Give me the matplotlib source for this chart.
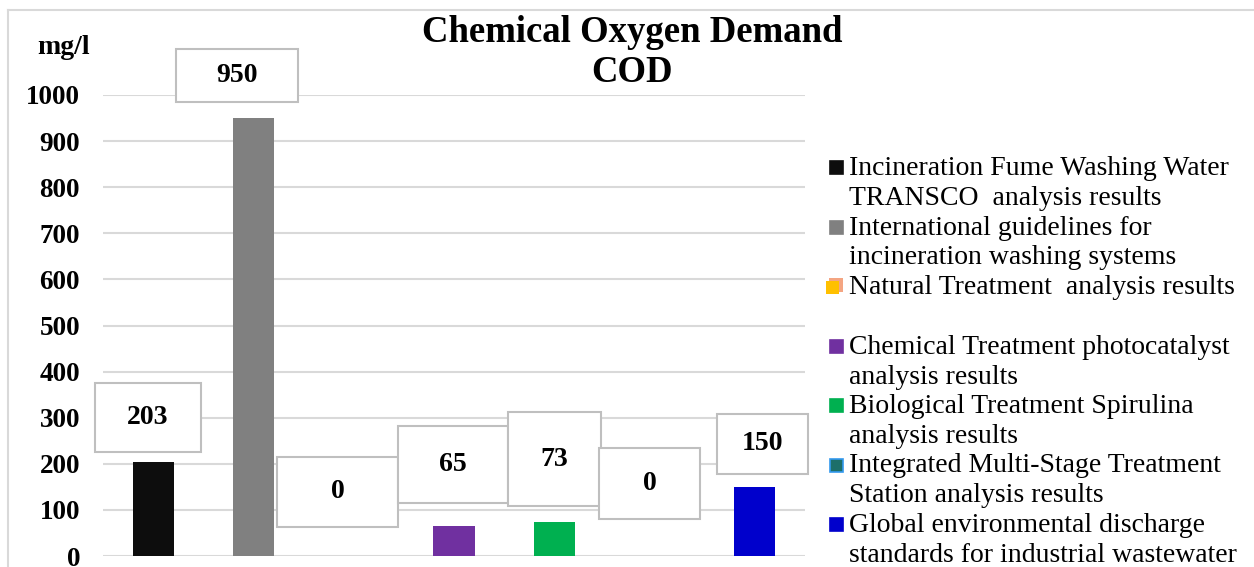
import matplotlib
matplotlib.use("Agg")
import matplotlib.pyplot as plt
from matplotlib.patches import Rectangle

plt.rcParams["font.family"] = ["Liberation Serif", "DejaVu Serif"]

# data
categories = [
    "Incineration Fume Washing Water\nTRANSCO  analysis results",
    "International guidelines for\nincineration washing systems",
    "Natural Treatment  analysis results\n",
    "Chemical Treatment photocatalyst\nanalysis results",
    "Biological Treatment Spirulina\nanalysis results",
    "Integrated Multi-Stage Treatment\nStation analysis results",
    "Global environmental discharge\nstandards for industrial wastewater",
]
cod_values = [203, 950, 0, 65, 73, 0, 150]
y_ticks = [0, 100, 200, 300, 400, 500, 600, 700, 800, 900, 1000]

# styles
bar_colors = ["#0d0d0d", "#808080", "#ffc000", "#7030a0", "#00b050", "#1d6f6a", "#0000cc"]
edge_colors = ["#0d0d0d", "#808080", "#f4a582", "#7030a0", "#00b050", "#3399ee", "#0000cc"]

# data-label boxes (pixel layout: x0, y0 top, x1, y1 bottom)
label_boxes = [
    (95, 383, 201, 452),
    (176, 49, 298, 102),
    (277, 457, 398, 527),
    (398, 426, 508, 503),
    (508, 412, 601, 506),
    (599, 448, 700, 519),
    (717, 414, 808, 474),
]

W, H = 1254, 567
fig = plt.figure(figsize=(W / 100, H / 100), dpi=100)


def fx(px):
    return px / W


def fy(py):
    return 1 - py / H


ax = fig.add_axes([fx(103), fy(556), fx(805) - fx(103), fy(95) - fy(556)])
x = list(range(len(categories)))
ax.bar(x, cod_values, width=0.41, color=bar_colors, zorder=3)
ax.set_xlim(-0.5, len(categories) - 0.5)
ax.set_ylim(0, 1000)
ax.set_yticks(y_ticks)
ax.set_yticklabels([str(t) for t in y_ticks], fontsize=19.5, fontweight="bold")
ax.tick_params(axis="y", length=0, pad=16.5)
ax.set_xticks([])
ax.grid(axis="y", color="#d9d9d9", linewidth=1.5, zorder=0)
for s in ax.spines.values():
    s.set_visible(False)
ax.patch.set_alpha(0)

# outer chart border (top and left edges visible)
fig.add_artist(plt.Line2D([fx(8), 1], [fy(10), fy(10)], color="#d9d9d9", lw=1.5))
fig.add_artist(plt.Line2D([fx(8), fx(8)], [fy(10), 0], color="#d9d9d9", lw=1.5))

# value labels in boxes
for val, (x0, y0, x1, y1) in zip(cod_values, label_boxes):
    fig.add_artist(Rectangle((fx(x0), fy(y1)), fx(x1) - fx(x0), fy(y0) - fy(y1),
                             facecolor="white", edgecolor="#bfbfbf", lw=1.5, zorder=5))
    fig.text(fx((x0 + x1) / 2), fy((y0 + y1) / 2), str(val), ha="center", va="center",
             fontsize=20, fontweight="bold", zorder=6)

# title and unit
fig.text(fx(632), fy(42), "Chemical Oxygen Demand", ha="center", va="baseline",
         fontsize=26.5, fontweight="bold")
fig.text(fx(632), fy(82), "COD", ha="center", va="baseline", fontsize=26.5, fontweight="bold")
fig.text(fx(64), fy(48), "mg/l", ha="center", va="center", fontsize=20, fontweight="bold")

# legend
for i, (lab, fc, ec) in enumerate(zip(categories, bar_colors, edge_colors)):
    base = 175 + 59.5 * i
    if i == 2:
        fig.add_artist(Rectangle((fx(829), fy(base - 2)), fx(14), fy(0) - fy(14),
                                 facecolor="#f4a582", edgecolor="none"))
        fig.add_artist(Rectangle((fx(826), fy(base)), fx(13), fy(0) - fy(13),
                                 facecolor=fc, edgecolor="none"))
    else:
        fig.add_artist(Rectangle((fx(830), fy(base - 1)), fx(13), fy(0) - fy(13),
                                 facecolor=fc, edgecolor=ec, lw=1.2))
    for j, line in enumerate(lab.split("\n")):
        fig.text(fx(849), fy(base + 30 * j), line, ha="left", va="baseline", fontsize=20)

fig.savefig("out.png", dpi=100)
